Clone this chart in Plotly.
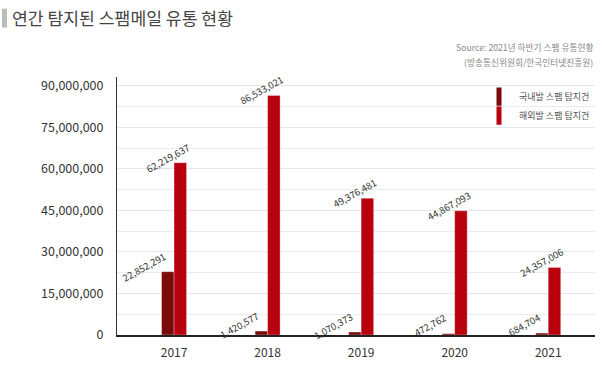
import plotly.graph_objects as go

years = ["2017", "2018", "2019", "2020", "2021"]
domestic = [22852291, 1420577, 1070373, 472762, 684704]
overseas = [62219637, 86533021, 49376481, 44867093, 24357006]
series_names = ["국내발 스팸 탐지건", "해외발 스팸 탐지건"]
y_ticks = [0, 15000000, 30000000, 45000000, 60000000, 75000000, 90000000]

title_text = "연간 탐지된 스팸메일 유통 현황"
source_text = ["Source: 2021년 하반기 스팸 유통현황", "(방송통신위원회/한국인터넷진흥원)"]

DARK = "#7b0a0a"
RED = "#b8000e"
FONT = "Noto Sans CJK KR, Noto Sans, sans-serif"

fig = go.Figure()
for vals, color, name in [(domestic, DARK, series_names[0]), (overseas, RED, series_names[1])]:
    fig.add_trace(go.Bar(
        x=years, y=vals, name=name, marker=dict(color=color, line=dict(color="rgba(255,255,255,0.6)", width=0.5)),
        showlegend=False, hoverinfo="x+y",
    ))
# legend entries with narrow vertical swatches
for color, name in [(DARK, series_names[0]), (RED, series_names[1])]:
    fig.add_trace(go.Scatter(
        x=[None], y=[None], mode="markers", name=name,
        marker=dict(symbol="line-ns", size=13, color=color, line=dict(width=5, color=color)),
    ))

annotations = []
for vals, xshift in [(domestic, -5), (overseas, 19)]:
    for i, v in enumerate(vals):
        annotations.append(dict(
            x=i, y=v, xref="x", yref="y", text=f"{v:,}", showarrow=False,
            textangle=-29, xanchor="right", yanchor="top", xshift=xshift, yshift=24,
            borderpad=0,
            font=dict(family=FONT, size=9.5, color="#333"),
        ))

annotations.append(dict(
    x=(10 - 117) / 478, y=1.2308, xref="paper", yref="paper", text=title_text, showarrow=False,
    xanchor="left", yanchor="middle", font=dict(family=FONT, size=17.2, color="#444"),
))
for i, line in enumerate(source_text):
    annotations.append(dict(
        x=1.0, y=(337 - 47 - 15 * i) / 260, xref="paper", yref="paper", text=line, showarrow=False,
        xanchor="right", yanchor="middle", font=dict(family=FONT, size=8.7, color="#888"),
    ))

fig.update_layout(
    width=602, height=367,
    margin=dict(l=117, r=7, t=77, b=30),
    paper_bgcolor="white", plot_bgcolor="white",
    barmode="group", bargap=0.733, bargroupgap=0,
    font=dict(family=FONT, color="#333"),
    showlegend=True,
    legend=dict(x=1.0, y=0.98, xanchor="right", yanchor="top", bgcolor="rgba(0,0,0,0)",
                font=dict(family=FONT, size=9, color="#555"), tracegroupgap=0, itemclick=False),
    annotations=annotations,
    shapes=[dict(type="rect", xref="paper", yref="paper", x0=-0.2406, x1=-0.2301, y0=1.192, y1=1.265,
                 fillcolor="#bbbbbb", line=dict(width=0))],
)
fig.update_xaxes(
    type="category", range=[-0.61, 4.5], showgrid=False,
    showline=True, linecolor="#222", linewidth=1.5, ticks="",
    ticklabelstandoff=6,
    tickfont=dict(family=FONT, size=12, color="#333"),
)
fig.update_yaxes(
    range=[0, 93200000], tickvals=y_ticks, tickformat=",d",
    showgrid=True, gridcolor="#e6e6e6", gridwidth=1,
    minor=dict(dtick=7500000, tick0=0, showgrid=True, gridcolor="#ececec", gridwidth=1),
    showline=True, linecolor="#333", linewidth=1, ticks="", zeroline=False,
    ticklabelstandoff=10,
    tickfont=dict(family=FONT, size=12.5, color="#333"),
)

fig.write_html("out.html", config={"displayModeBar": False},
               post_script="document.body.style.margin='0';")
